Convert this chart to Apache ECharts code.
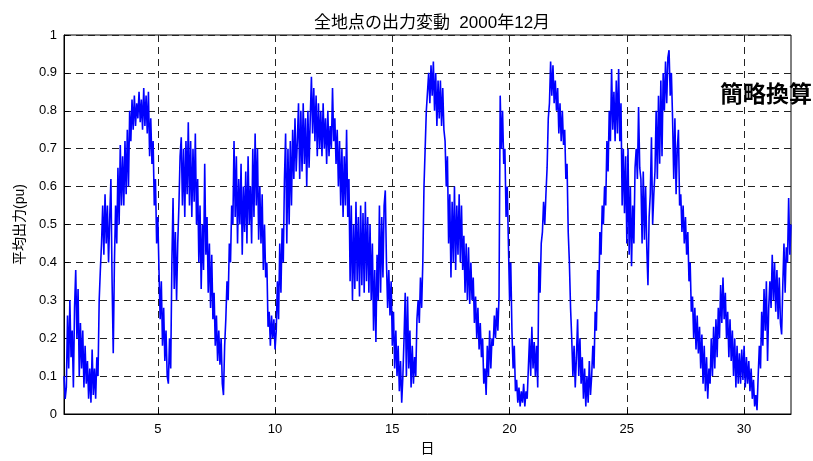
<!DOCTYPE html>
<html>
<head>
<meta charset="utf-8">
<script src="https://cdn.jsdelivr.net/npm/echarts@6/dist/echarts.min.js"></script>
<style>
html,body{margin:0;padding:0;background:#fff;}
#chart{width:813px;height:461px;}
</style>
</head>
<body>
<div id="chart"></div>
<script>
// Time axis: days 1.00 .. 32.00, one reading every 0.05 day
const startDay = 1;
const stepDay = 0.05;
const xTicks = [5, 10, 15, 20, 25, 30];
const titleText = '全地点の出力変動  2000年12月';
const xName = '日';
const yName = '平均出力(pu)';
const noteText = '簡略換算';
// Average output (pu) (20 readings per day)
const output = [
  0.10,0.04,0.07,0.26,0.12,0.30,0.15,0.22,0.07,0.28,0.38,0.20,0.33,0.10,0.24,0.12,0.22,0.07,0.18,0.08, // 1
  0.14,0.04,0.12,0.03,0.17,0.05,0.12,0.04,0.15,0.10,0.30,0.38,0.45,0.55,0.42,0.58,0.45,0.55,0.40,0.52, // 2
  0.62,0.35,0.16,0.40,0.55,0.45,0.65,0.50,0.71,0.55,0.68,0.55,0.72,0.58,0.75,0.60,0.80,0.72,0.83,0.75, // 3
  0.84,0.76,0.82,0.78,0.85,0.77,0.83,0.75,0.86,0.76,0.84,0.74,0.85,0.68,0.78,0.66,0.72,0.55,0.62,0.45, // 4
  0.52,0.38,0.25,0.35,0.18,0.28,0.14,0.22,0.10,0.08,0.20,0.12,0.40,0.57,0.33,0.48,0.30,0.45,0.55,0.68, // 5
  0.73,0.55,0.70,0.52,0.72,0.58,0.77,0.55,0.72,0.52,0.70,0.56,0.74,0.50,0.62,0.40,0.55,0.33,0.50,0.38, // 6
  0.66,0.42,0.52,0.32,0.45,0.28,0.42,0.25,0.32,0.18,0.26,0.14,0.22,0.13,0.20,0.08,0.05,0.18,0.25,0.35, // 7
  0.30,0.45,0.40,0.55,0.50,0.72,0.52,0.68,0.45,0.62,0.50,0.66,0.42,0.60,0.48,0.64,0.45,0.68,0.50,0.60, // 8
  0.45,0.70,0.52,0.74,0.55,0.70,0.46,0.60,0.45,0.58,0.38,0.50,0.36,0.40,0.23,0.27,0.18,0.26,0.20,0.25, // 9
  0.17,0.22,0.35,0.25,0.45,0.32,0.49,0.40,0.62,0.74,0.45,0.70,0.50,0.72,0.55,0.75,0.62,0.78,0.64,0.72, // 10
  0.82,0.62,0.80,0.64,0.82,0.66,0.78,0.60,0.80,0.65,0.78,0.89,0.74,0.86,0.72,0.84,0.68,0.82,0.70,0.80, // 11
  0.68,0.82,0.70,0.78,0.66,0.80,0.68,0.76,0.70,0.86,0.72,0.78,0.66,0.75,0.60,0.72,0.55,0.70,0.52,0.68, // 12
  0.55,0.75,0.52,0.62,0.35,0.55,0.30,0.50,0.33,0.56,0.35,0.52,0.31,0.55,0.34,0.53,0.32,0.56,0.35,0.52, // 13
  0.32,0.50,0.30,0.45,0.22,0.38,0.19,0.42,0.30,0.55,0.32,0.52,0.36,0.55,0.59,0.40,0.28,0.38,0.26,0.35, // 14
  0.18,0.27,0.12,0.22,0.10,0.18,0.06,0.14,0.03,0.10,0.20,0.32,0.10,0.31,0.12,0.22,0.07,0.18,0.08,0.15, // 15
  0.10,0.25,0.30,0.24,0.36,0.28,0.40,0.60,0.70,0.80,0.85,0.90,0.82,0.92,0.84,0.93,0.80,0.90,0.76,0.88, // 16
  0.78,0.88,0.76,0.86,0.75,0.72,0.60,0.68,0.45,0.58,0.36,0.56,0.40,0.60,0.38,0.55,0.42,0.58,0.40,0.55, // 17
  0.38,0.47,0.32,0.45,0.30,0.44,0.29,0.40,0.30,0.36,0.24,0.31,0.20,0.28,0.17,0.24,0.15,0.20,0.08,0.12, // 18
  0.05,0.18,0.10,0.22,0.12,0.20,0.18,0.26,0.20,0.28,0.22,0.31,0.84,0.70,0.80,0.66,0.70,0.52,0.60,0.45, // 19
  0.30,0.40,0.22,0.12,0.18,0.06,0.09,0.03,0.07,0.02,0.06,0.03,0.08,0.02,0.06,0.04,0.12,0.20,0.10,0.23, // 20
  0.12,0.19,0.10,0.18,0.07,0.40,0.32,0.45,0.48,0.56,0.50,0.58,0.65,0.78,0.82,0.93,0.84,0.92,0.82,0.88, // 21
  0.80,0.86,0.74,0.82,0.72,0.80,0.71,0.75,0.62,0.66,0.48,0.40,0.28,0.20,0.10,0.18,0.07,0.15,0.25,0.10, // 22
  0.20,0.08,0.15,0.04,0.12,0.02,0.10,0.03,0.14,0.05,0.10,0.18,0.12,0.27,0.22,0.38,0.30,0.48,0.42,0.55, // 23
  0.50,0.60,0.55,0.72,0.64,0.80,0.72,0.91,0.75,0.85,0.72,0.88,0.74,0.91,0.72,0.82,0.55,0.70,0.53,0.68, // 24
  0.45,0.70,0.42,0.60,0.39,0.55,0.45,0.65,0.70,0.62,0.81,0.65,0.62,0.45,0.64,0.46,0.60,0.44,0.34,0.52, // 25
  0.58,0.73,0.50,0.58,0.64,0.80,0.62,0.84,0.66,0.88,0.68,0.90,0.80,0.93,0.82,0.94,0.96,0.84,0.90,0.78, // 26
  0.62,0.78,0.58,0.70,0.75,0.55,0.58,0.48,0.55,0.45,0.52,0.42,0.48,0.35,0.40,0.27,0.31,0.20,0.28,0.17, // 27
  0.26,0.16,0.23,0.12,0.21,0.08,0.18,0.06,0.15,0.04,0.12,0.08,0.20,0.10,0.23,0.12,0.25,0.15,0.28,0.20, // 28
  0.34,0.24,0.36,0.25,0.32,0.20,0.27,0.15,0.25,0.14,0.22,0.10,0.20,0.07,0.18,0.08,0.16,0.08,0.17,0.09, // 29
  0.18,0.07,0.15,0.08,0.14,0.06,0.12,0.04,0.09,0.02,0.05,0.01,0.10,0.18,0.12,0.27,0.18,0.33,0.22,0.35, // 30
  0.14,0.28,0.35,0.28,0.42,0.30,0.40,0.27,0.38,0.25,0.36,0.24,0.21,0.34,0.45,0.32,0.44,0.40,0.57,0.42, // 31
  0.50
];

const seriesData = output.map((v, i) => [startDay + i * stepDay, v]);
const FONT = '"Liberation Sans", "Noto Sans CJK JP", sans-serif';
const chart = echarts.init(document.getElementById('chart'), null, {renderer: 'canvas'});
const dash = {color: '#222', type: [7, 5], width: 1};
chart.setOption({
  animation: false,
  backgroundColor: '#ffffff',
  title: {
    text: titleText,
    left: 427, top: 10, textAlign: 'center',
    textStyle: {fontFamily: FONT, fontSize: 17, fontWeight: 'normal', color: '#000'}
  },
  grid: {left: 64, right: 22, top: 35, bottom: 45, show: true, borderColor: '#000', borderWidth: 1, backgroundColor: 'transparent'},
  xAxis: {
    type: 'value', min: 1, max: 32,
    name: xName, nameLocation: 'middle', nameGap: 28,
    nameTextStyle: {fontFamily: FONT, fontSize: 14, color: '#000'},
    axisLine: {show: true, lineStyle: {color: '#000'}},
    axisTick: {show: true, inside: true, length: 5, customValues: xTicks, lineStyle: {color: '#000'}},
    axisLabel: {customValues: xTicks, fontFamily: FONT, fontSize: 13, color: '#000', margin: 9},
    splitLine: {show: true, lineStyle: dash}
  },
  yAxis: {
    type: 'value', min: 0, max: 1, interval: 0.1,
    name: yName, nameLocation: 'middle', nameGap: 37, nameRotate: 90,
    nameTextStyle: {fontFamily: FONT, fontSize: 14, color: '#000'},
    axisLine: {show: true, lineStyle: {color: '#000'}},
    axisTick: {show: true, inside: true, length: 5, lineStyle: {color: '#000'}},
    axisLabel: {fontFamily: FONT, fontSize: 13, color: '#000', margin: 7,
      formatter: v => String(Math.round(v * 10) / 10)},
    splitLine: {show: true, lineStyle: dash}
  },
  graphic: [{
    type: 'text', right: 1, top: 82, z: 100,
    style: {text: noteText, fontFamily: '"Noto Sans CJK JP", sans-serif', fontSize: 23, fontWeight: 'bold', fill: '#000'}
  }],
  series: [{
    type: 'line', data: seriesData, showSymbol: false, symbol: 'none',
    lineStyle: {color: '#0000ff', width: 1.6}, z: 5
  }]
});
</script>
</body>
</html>
